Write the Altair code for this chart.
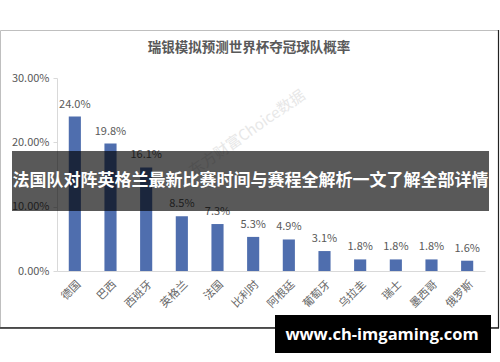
import altair as alt
import pandas as pd

teams = ["德国", "巴西", "西班牙", "英格兰", "法国", "比利时", "阿根廷", "葡萄牙", "乌拉圭", "瑞士", "墨西哥", "俄罗斯"]
probs = [0.240, 0.198, 0.161, 0.085, 0.073, 0.053, 0.049, 0.031, 0.018, 0.018, 0.018, 0.016]
labels = ["24.0%", "19.8%", "16.1%", "8.5%", "7.3%", "5.3%", "4.9%", "3.1%", "1.8%", "1.8%", "1.8%", "1.6%"]
title_text = "瑞银模拟预测世界杯夺冠球队概率"
banner_text = "法国队对阵英格兰最新比赛时间与赛程全解析一文了解全部详情"
site_text = "www.ch-imgaming.com"
wm_text = "东方财富Choice数据"

df = pd.DataFrame({"team": teams, "p": probs, "label": labels})
one = pd.DataFrame({"k": [0]})

FONT = "Noto Sans CJK SC"
GRAY = "#595959"

x = alt.X("team:N", sort=teams, title=None,
          scale=alt.Scale(paddingInner=0.66, paddingOuter=0.33),
          axis=alt.Axis(labelAngle=-45, ticks=False, domainColor="#d9d9d9",
                        labelColor="#666666", labelFontSize=11, labelFont=FONT, labelPadding=7))
y = alt.Y("p:Q", title=None, scale=alt.Scale(domain=[0, 0.30], nice=False),
          axis=alt.Axis(format=".2%", values=[0, 0.05, 0.10, 0.15, 0.20, 0.25, 0.30],
                        grid=False, domainColor="#d9d9d9", tickColor="#d9d9d9", tickSize=4,
                        labelColor=GRAY, labelFontSize=11, labelFont=FONT, labelPadding=4))

bars = alt.Chart(df).mark_bar(color="#4f6eae").encode(x=x, y=y)
vals = alt.Chart(df).mark_text(color=GRAY, fontSize=11, font=FONT, baseline="bottom", dy=-7).encode(
    x=alt.X("team:N", sort=teams), y="p:Q", text="label:N")

base1 = alt.Chart(one)
frame = base1.mark_rect(fill=None, stroke="#bfbfbf", strokeWidth=1).encode(
    x=alt.value(-56.5), x2=alt.value(441.5), y=alt.value(-47.5), y2=alt.value(249.5))
bottom_line = base1.mark_rule(color="#222222", strokeWidth=1.5).encode(
    x=alt.value(-57), x2=alt.value(442), y=alt.value(250))
right_line = base1.mark_rule(color="#222222", strokeWidth=1.2).encode(
    x=alt.value(441.5), y=alt.value(-48), y2=alt.value(250))
title = base1.mark_text(fontSize=13.5, fontWeight="bold", color=GRAY, font=FONT).encode(
    x=alt.value(192), y=alt.value(-30), text=alt.value(title_text))
wm = base1.mark_text(fontSize=15, color="#d8d8d8", font=FONT, angle=325, opacity=0.6).encode(
    x=alt.value(190), y=alt.value(55), text=alt.value(wm_text))
banner = base1.mark_rect(color="black", opacity=0.65).encode(
    x=alt.value(-45), x2=alt.value(432), y=alt.value(73), y2=alt.value(133))
banner_t = base1.mark_text(fontSize=17, fontWeight="bold", color="white", font=FONT).encode(
    x=alt.value(193.5), y=alt.value(103), text=alt.value(banner_text))
site_box = base1.mark_rect(color="black", opacity=1).encode(
    x=alt.value(218), x2=alt.value(434), y=alt.value(237), y2=alt.value(275))
site_t = base1.mark_text(fontSize=16.5, fontWeight="bold", color="white", font="Open Sans").encode(
    x=alt.value(325), y=alt.value(257), text=alt.value(site_text))

chart = alt.layer(frame, title, wm, bars, vals, bottom_line, right_line, banner, banner_t, site_box, site_t).properties(
    width=428, height=193,
    padding={"left": 57, "top": 78, "right": 15, "bottom": 91},
    autosize=alt.AutoSizeParams(type="none"),
    background="white",
).configure_view(stroke=None)

chart.save("out.html", embed_options={"renderer": "svg", "actions": False})
